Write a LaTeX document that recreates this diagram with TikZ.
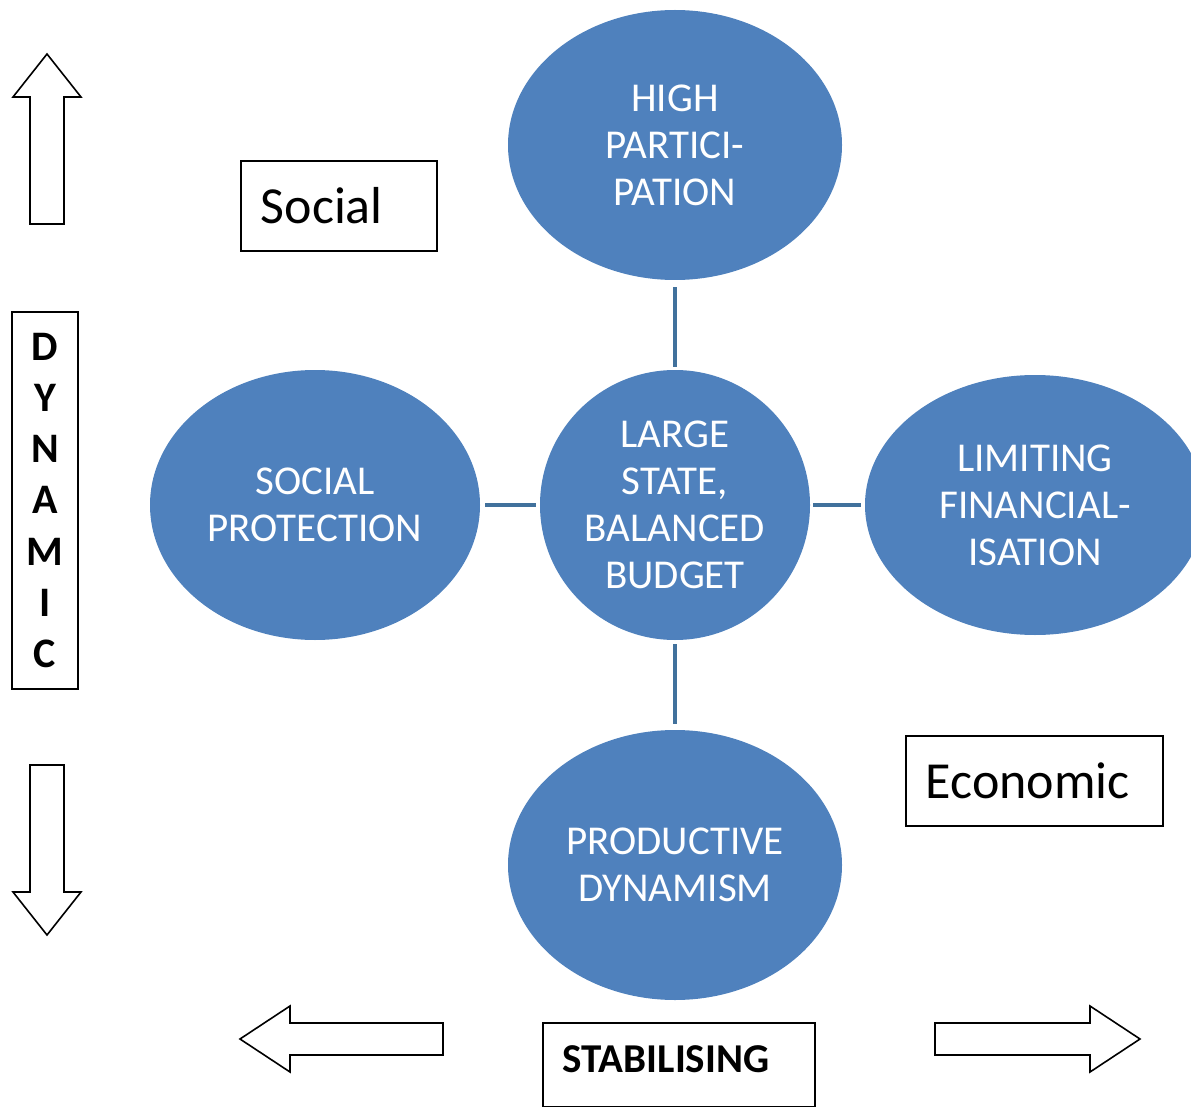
\documentclass[tikz,border=0pt]{standalone}
\usepackage{fontspec}
\setmainfont{Carlito}
\usetikzlibrary{shapes.geometric}
\definecolor{ellblue}{HTML}{4F81BD}
\definecolor{lineblue}{HTML}{41719C}
\begin{document}
\begin{tikzpicture}[x=1pt,y=-1pt,
  ell/.style={ellipse, fill=ellblue, text=white, inner sep=0pt, align=center,
    font=\fontsize{41}{47}\selectfont},
  conn/.style={draw=lineblue, line width=4pt},
  labelbox/.style={draw=black, line width=1.6pt, inner xsep=20pt, inner ysep=0pt,
    align=left, anchor=north west},
  arrowshape/.style={draw=black, line width=1.6pt, fill=white, line join=miter}]
\useasboundingbox (0,0) rectangle (1191,1107);
\clip (0,0) rectangle (1191,1107);

% ellipses
\node[ell, minimum width=334pt, minimum height=270pt] (top) at (675,145) {HIGH\\PARTICI-\\PATION};
\node[ell, minimum width=270pt, minimum height=270pt] (center) at (675,505) {LARGE\\STATE,\\BALANCED\\BUDGET};
\node[ell, minimum width=330pt, minimum height=270pt] (left) at (315,505) {SOCIAL\\PROTECTION};
\node[ell, minimum width=340pt, minimum height=260pt] (right) at (1035,505) {LIMITING\\FINANCIAL-\\ISATION};
\node[ell, minimum width=334pt, minimum height=270pt] (bottom) at (675,865) {PRODUCTIVE\\DYNAMISM};

% connectors
\draw[conn, shorten <=7pt, shorten >=3pt] (top.south) -- (center.north);
\draw[conn, shorten <=4pt, shorten >=6pt] (center.south) -- (bottom.north);
\draw[conn, shorten <=5pt, shorten >=4pt] (left.east) -- (center.west);
\draw[conn, shorten <=3pt, shorten >=4pt] (center.east) -- (right.west);

% label boxes
\node[labelbox, text width=156pt, minimum height=90pt, font=\fontsize{52}{60}\selectfont] (social) at (240,160) {Social};
\node[labelbox, text width=217pt, minimum height=90pt, font=\fontsize{52}{60}\selectfont] (economic) at (905,735) {Economic};
\node[labelbox, text width=232pt, minimum height=84pt, font=\bfseries\fontsize{41}{47}\selectfont] (stab) at (542,1022) {\raisebox{6pt}[\height][\depth]{STABILISING}};
\node[draw=black, line width=1.6pt, minimum width=66pt, minimum height=377pt, inner sep=0pt,
  align=center, font=\bfseries\fontsize{42}{51.3}\selectfont] (dynamic) at (45,500.5) {D\\Y\\N\\A\\M\\I\\C};

% block arrows
\draw[arrowshape] (47,54) -- (81,97) -- (64,97) -- (64,224) -- (30,224) -- (30,97) -- (13,97) -- cycle;
\draw[arrowshape] (30,765) -- (64,765) -- (64,892) -- (81,892) -- (47,935) -- (13,892) -- (30,892) -- cycle;
\draw[arrowshape] (240,1039) -- (290,1006) -- (290,1023) -- (443,1023) -- (443,1055) -- (290,1055) -- (290,1072) -- cycle;
\draw[arrowshape] (935,1023) -- (1090,1023) -- (1090,1006) -- (1140,1039) -- (1090,1072) -- (1090,1055) -- (935,1055) -- cycle;
\end{tikzpicture}
\end{document}
